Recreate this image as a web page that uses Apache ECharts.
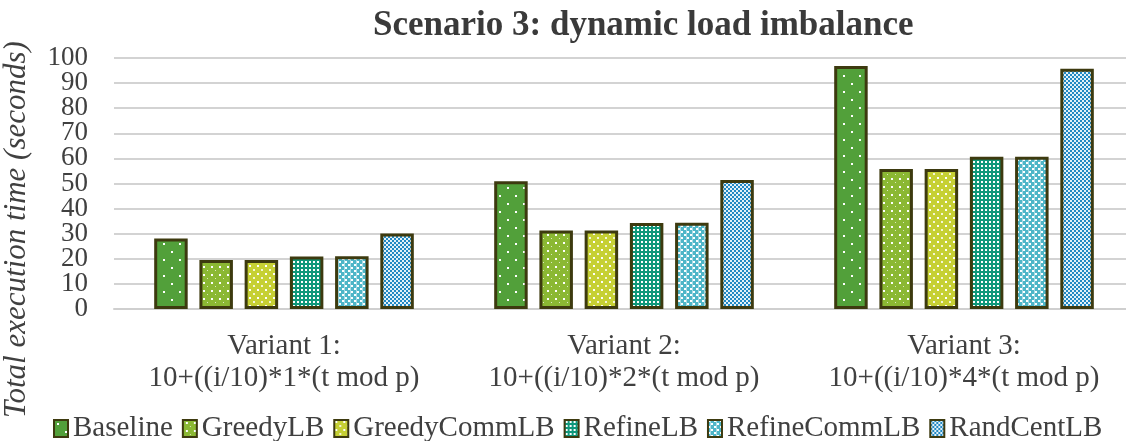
<!DOCTYPE html>
<html lang="en">
<head>
    <meta charset="UTF-8">
    <title>Scenario 3: dynamic load imbalance</title>
    <script src="https://cdn.jsdelivr.net/npm/echarts@6/dist/echarts.min.js"></script>
    <style>
        body { margin: 0; background: #fff; }
        #chart { width: 1126px; height: 441px; }
    </style>
</head>
<body>
    <div id="chart"></div>
    <script>
        const categories = [
            'Variant 1:\n10+((i/10)*1*(t mod p)',
            'Variant 2:\n10+((i/10)*2*(t mod p)',
            'Variant 3:\n10+((i/10)*4*(t mod p)'
        ];
        const baseline = [28.1, 50.9, 96.8];
        const greedyLB = [19.5, 31.3, 55.8];
        const greedyCommLB = [19.5, 31.3, 55.8];
        const refineLB = [20.9, 34.3, 60.7];
        const refineCommLB = [21.0, 34.4, 60.7];
        const randCentLB = [30.1, 51.4, 95.7];
        const yTicks = [0, 10, 20, 30, 40, 50, 60, 70, 80, 90, 100];

        const font = 'Liberation Serif';

        // little canvas tiles to fake the excel pattern fills
        function tile(w, h, draw) {
            const c = document.createElement('canvas');
            c.width = w;
            c.height = h;
            draw(c.getContext('2d'));
            return { image: c, repeat: 'repeat' };
        }

        const patBaseline = tile(16, 16, ctx => {
            ctx.fillStyle = '#52a03a';
            ctx.fillRect(0, 0, 16, 16);
            ctx.fillStyle = '#ffffff';
            ctx.fillRect(3, 3, 2, 2);
            ctx.fillRect(11, 11, 2, 2);
        });
        const patGreedy = tile(8, 8, ctx => {
            ctx.fillStyle = '#8bb833';
            ctx.fillRect(0, 0, 8, 8);
            ctx.fillStyle = '#ffffff';
            ctx.fillRect(3, 2, 2, 2);
            ctx.fillStyle = 'rgba(255,255,255,0.7)';
            ctx.fillRect(7, 6, 2, 1);
        });
        const patGreedyComm = tile(8, 8, ctx => {
            ctx.fillStyle = '#c6d034';
            ctx.fillRect(0, 0, 8, 8);
            ctx.fillStyle = '#ffffff';
            ctx.fillRect(1, 1, 2, 2);
            ctx.fillStyle = 'rgba(255,255,255,0.8)';
            ctx.fillRect(5, 5, 2, 2);
        });
        const patRefine = tile(4, 4, ctx => {
            ctx.fillStyle = '#0f987b';
            ctx.fillRect(0, 0, 4, 4);
            ctx.fillStyle = '#ffffff';
            ctx.fillRect(1, 1, 2, 2);
        });
        const patRefineComm = tile(6, 6, ctx => {
            ctx.fillStyle = '#4fb6c8';
            ctx.fillRect(0, 0, 6, 6);
            ctx.fillStyle = '#ffffff';
            ctx.fillRect(0, 0, 2, 2);
            ctx.fillRect(3, 3, 2, 2);
            ctx.fillStyle = 'rgba(255,255,255,0.5)';
            ctx.fillRect(2, 0, 1, 6);
        });
        const patRandCent = tile(4, 4, ctx => {
            ctx.fillStyle = '#e2f1f8';
            ctx.fillRect(0, 0, 4, 4);
            ctx.fillStyle = '#2289c3';
            ctx.fillRect(0, 0, 2, 2);
            ctx.fillRect(2, 2, 2, 2);
        });

        const seriesDefs = [
            ['Baseline', baseline, patBaseline],
            ['GreedyLB', greedyLB, patGreedy],
            ['GreedyCommLB', greedyCommLB, patGreedyComm],
            ['RefineLB', refineLB, patRefine],
            ['RefineCommLB', refineCommLB, patRefineComm],
            ['RandCentLB', randCentLB, patRandCent]
        ];

        const tickFont = { margin: 26, fontFamily: font, fontSize: 27, color: '#404040' };

        // the labels sit closer than echarts likes, so even and odd ticks go on two stacked axes
        function yLabelAxis(keepEven, extra) {
            return Object.assign({
                type: 'value',
                position: 'left',
                min: yTicks[0],
                max: yTicks[yTicks.length - 1],
                interval: 10,
                axisLine: { show: false },
                axisTick: { show: false },
                splitLine: { show: false },
                axisLabel: Object.assign({
                    formatter: v => ((v / 10) % 2 === 0) === keepEven ? String(v) : ''
                }, tickFont)
            }, extra);
        }

        const chart = echarts.init(document.getElementById('chart'));
        const option = {
            animation: false,
            title: {
                text: 'Scenario 3: dynamic load imbalance',
                left: 368,
                top: 3,
                textStyle: { fontFamily: font, fontSize: 35, fontWeight: 'bold', color: '#3a3a3a' }
            },
            legend: {
                left: 48,
                top: 409,
                itemWidth: 14,
                itemHeight: 17,
                itemGap: 9,
                icon: 'rect',
                itemStyle: { borderWidth: 2, borderColor: '#3d3a0f' },
                textStyle: { fontFamily: font, fontSize: 29, color: '#404040' },
                data: seriesDefs.map(d => d[0])
            },
            grid: {
                left: 114,
                top: 58,
                width: 1020,
                height: 251,
                containLabel: false,
                outerBoundsMode: 'none'
            },
            xAxis: {
                type: 'category',
                data: categories,
                axisTick: { show: false },
                axisLine: { lineStyle: { color: '#cfcfcf', width: 2 } },
                axisLabel: {
                    margin: 21,
                    fontFamily: font,
                    fontSize: 29,
                    lineHeight: 32,
                    color: '#404040',
                    interval: 0
                }
            },
            yAxis: [
                yLabelAxis(true, {
                    name: 'Total execution time (seconds)',
                    nameLocation: 'middle',
                    nameGap: 82,
                    nameTextStyle: {
                        fontFamily: font,
                        fontSize: 31,
                        fontStyle: 'italic',
                        color: '#404040',
                        padding: [0, 92, 0, 0]
                    },
                    splitLine: { show: true, lineStyle: { color: '#d3d3d3', width: 2 } }
                }),
                yLabelAxis(false, { offset: 0 })
            ],
            series: seriesDefs.map(d => ({
                name: d[0],
                type: 'bar',
                data: d[1],
                barWidth: 33.5,
                barGap: '35%',
                itemStyle: {
                    color: d[2],
                    borderColor: '#3d3a0f',
                    borderWidth: 3
                }
            }))
        };
        chart.setOption(option);
    </script>
</body>
</html>
